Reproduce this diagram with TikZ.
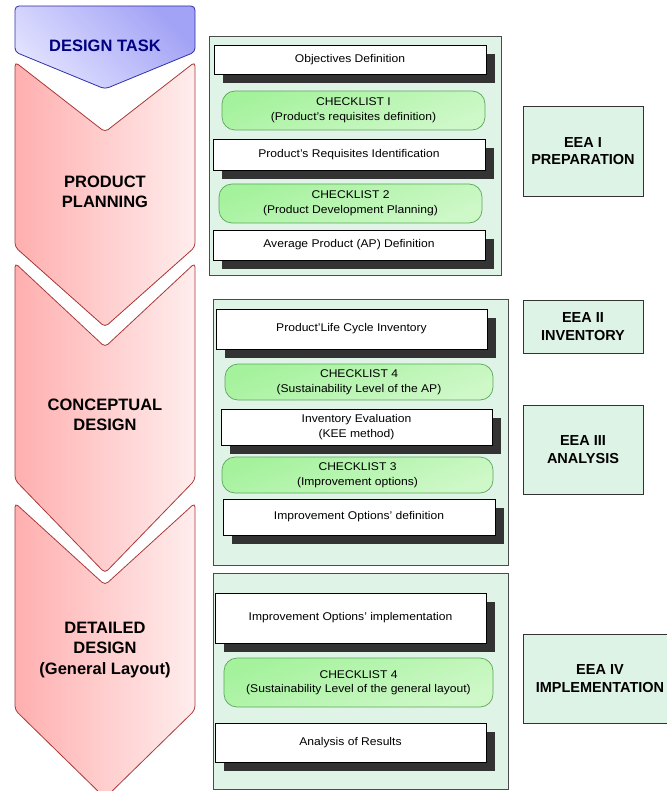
\documentclass[tikz,border=0pt]{standalone}
\usepackage{fontspec}
\setmainfont{Liberation Sans}
\newfontfamily\boxfont[FakeStretch=1.08]{Liberation Sans}
\usetikzlibrary{shadows}
\definecolor{panelgreen}{HTML}{DFF3E7}
\definecolor{eeagreen}{HTML}{DDF3E6}
\definecolor{checkA}{HTML}{A4F29C}
\definecolor{checkB}{HTML}{CFF8C9}
\definecolor{checkdraw}{HTML}{5CA85C}
\definecolor{shadowgray}{HTML}{333333}
\definecolor{pinkA}{HTML}{FFAFAF}
\definecolor{pinkM}{HTML}{FFD2D2}
\definecolor{pinkB}{HTML}{FFEDED}
\definecolor{pinkdraw}{HTML}{A83A3A}
\definecolor{blueA}{HTML}{A2A2F6}
\definecolor{blueB}{HTML}{E2E2FF}
\definecolor{bluedraw}{HTML}{3030A8}
\definecolor{navytext}{HTML}{000080}
\tikzset{
  chev/.style={draw=pinkdraw, line width=0.8pt, rounded corners=4pt,
    left color=pinkA, middle color=pinkM, right color=pinkB},
  taskchev/.style={draw=bluedraw, line width=0.8pt, rounded corners=4pt,
    top color=blueA, bottom color=blueB, shading angle=-45},
  chevlabel/.style={font=\fontsize{16.5}{20.5}\selectfont\bfseries, align=center, text=black},
  panel/.style={draw=black!70, line width=0.7pt, fill=panelgreen, inner sep=0pt},
  wbox/.style={draw=black, line width=0.6pt, fill=white, inner sep=0pt, align=center,
    font=\boxfont\fontsize{11.2}{14.5}\selectfont,
    general shadow={fill=shadowgray, shadow xshift=9pt, shadow yshift=-9pt}},
  cbox/.style={draw=checkdraw, line width=0.7pt, rounded corners=13pt, inner sep=0pt,
    top color=checkA, bottom color=checkB, shading angle=20, align=center,
    font=\boxfont\fontsize{11.2}{14.5}\selectfont},
  eea/.style={draw=black!80, line width=0.8pt, fill=eeagreen, inner sep=0pt, align=center,
    font=\fontsize{14.5}{17.5}\selectfont\bfseries},
}
\begin{document}
\begin{tikzpicture}[x=1pt, y=-1pt]
\useasboundingbox (0,0) rectangle (666,791);
% left chevrons
\path[taskchev] (15,6) -- (195,6) -- (195,52) -- (105,89) -- (15,52) -- cycle;
\node[chevlabel, text=navytext] (task) at (105,46) {DESIGN TASK};
\path[chev] (15,62) -- (105,132) -- (195,62) -- (195,247) -- (105,327) -- (15,247) -- cycle;
\node[chevlabel] (plan) at (105,192) {PRODUCT\\PLANNING};
\path[chev] (15,263) -- (105,347) -- (195,263) -- (195,480) -- (105,573) -- (15,480) -- cycle;
\node[chevlabel] (concept) at (105,415) {CONCEPTUAL\\DESIGN};
\path[chev] (15,503) -- (105,585) -- (195,503) -- (195,710) -- (105,798) -- (15,710) -- cycle;
\node[chevlabel] (detail) at (105,650) {DETAILED\\DESIGN\\(General Layout)};
% panels
\node[panel, minimum width=292pt, minimum height=239pt] (p1) at (355,155.5) {};
\node[panel, minimum width=295pt, minimum height=266pt] (p2) at (360.5,432) {};
\node[panel, minimum width=295pt, minimum height=216pt] (p3) at (360.5,681) {};
% panel 1
\node[wbox, minimum width=272pt, minimum height=29pt] (obj) at (350,59.5) {Objectives Definition};
\node[cbox, minimum width=263pt, minimum height=39pt] (cl1) at (353.5,110.5) {CHECKLIST I\\(Product’s requisites definition)};
\node[wbox, minimum width=272pt, minimum height=31pt] (pri) at (349,154.5) {Product’s Requisites Identification};
\node[cbox, minimum width=263pt, minimum height=39pt] (cl2) at (350.5,203.5) {CHECKLIST 2\\(Product Development Planning)};
\node[wbox, minimum width=272pt, minimum height=30pt] (apd) at (349,245) {Average Product (AP) Definition};
% panel 2
\node[wbox, minimum width=271pt, minimum height=40pt] (plci) at (351.5,329) {Product’Life Cycle Inventory};
\node[cbox, minimum width=268pt, minimum height=36pt] (cl4) at (359,382) {CHECKLIST 4\\(Sustainability Level of the AP)};
\node[wbox, minimum width=271pt, minimum height=36pt] (ie) at (356.5,427) {Inventory Evaluation\\(KEE method)};
\node[cbox, minimum width=271pt, minimum height=36pt] (cl3) at (357.5,475) {CHECKLIST 3\\(Improvement options)};
\node[wbox, minimum width=272pt, minimum height=36pt] (iod) at (359,517) {Improvement Options’ definition};
% panel 3
\node[wbox, minimum width=271pt, minimum height=50pt] (ioi) at (350.5,618) {Improvement Options’ implementation};
\node[cbox, minimum width=269pt, minimum height=49pt] (cl4b) at (358.5,682.5) {CHECKLIST 4\\(Sustainability Level of the general layout)};
\node[wbox, minimum width=271pt, minimum height=39pt] (ar) at (350.5,742.5) {Analysis of Results};
% EEA boxes
\node[eea, minimum width=120pt, minimum height=90pt] (eea1) at (583,151) {EEA I\\PREPARATION};
\node[eea, minimum width=120pt, minimum height=53pt] (eea2) at (583,326.5) {EEA II\\INVENTORY};
\node[eea, minimum width=120pt, minimum height=89pt] (eea3) at (583,449.5) {EEA III\\ANALYSIS};
\node[eea, minimum width=154pt, minimum height=89pt] (eea4) at (600,678.5) {EEA IV\\IMPLEMENTATION};
\end{tikzpicture}
\end{document}
